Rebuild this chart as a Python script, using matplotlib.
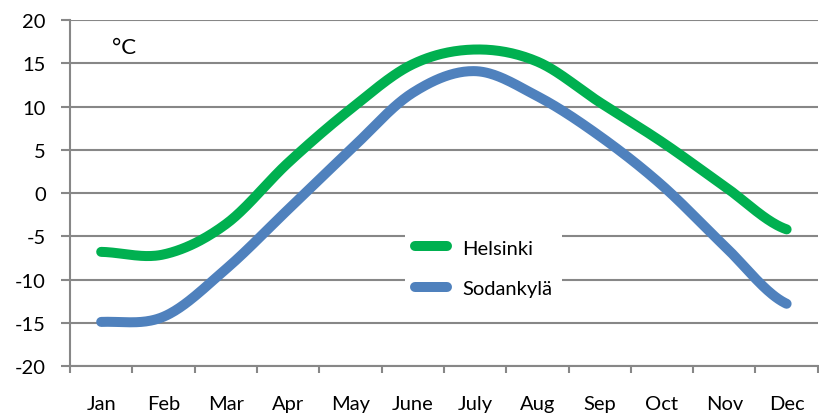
import numpy as np
import matplotlib.pyplot as plt

plt.rcParams['font.family'] = ['Lato', 'DejaVu Sans']
plt.rcParams['axes.unicode_minus'] = False

# Monthly mean temperatures (°C)
months = ['Jan', 'Feb', 'Mar', 'Apr', 'May', 'June', 'July', 'Aug', 'Sep', 'Oct', 'Nov', 'Dec']
helsinki = [-6.8, -7.1, -3.6, 3.5, 9.7, 14.9, 16.6, 15.2, 10.5, 5.9, 0.8, -4.2]
sodankyla = [-14.9, -14.3, -8.8, -1.9, 5.0, 11.6, 14.1, 11.2, 6.6, 0.9, -6.1, -12.8]


def smooth(vals, n=40):
    # Bezier curve through the points, the way a spreadsheet "smoothed line" does it
    p = np.asarray(vals, dtype=float)
    pad = np.concatenate([[p[0]], p, [p[-1]]])
    t = np.linspace(0, 1, n)
    xs, ys = [], []
    for i in range(len(p) - 1):
        p0, p1, p2, p3 = pad[i], pad[i + 1], pad[i + 2], pad[i + 3]
        c1 = p1 + (p2 - p0) / 6
        c2 = p2 - (p3 - p1) / 6
        y = (1 - t) ** 3 * p1 + 3 * (1 - t) ** 2 * t * c1 + 3 * (1 - t) * t ** 2 * c2 + t ** 3 * p2
        xs.append(i + t)
        ys.append(y)
    return np.concatenate(xs), np.concatenate(ys)


fig = plt.figure(figsize=(8.19, 4.14), dpi=100)
ax = fig.add_axes([0.0855, 0.1135, 0.913, 0.8355])

grid_col = '#878787'
x, y = smooth(helsinki)
ax.plot(x, y, color='#00B050', lw=7.2, solid_capstyle='round', label='Helsinki', zorder=3)
x, y = smooth(sodankyla)
ax.plot(x, y, color='#4F81BD', lw=7.2, solid_capstyle='round', label='Sodankylä', zorder=3)

ax.set_ylim(-20, 20)
ax.set_yticks(range(-20, 21, 5))
ax.set_xlim(-0.5, 11.5)
ax.set_xticks(np.arange(len(months)))
ax.set_xticklabels(months)
ax.set_xticks(np.arange(-0.5, 11.6, 1), minor=True)

ax.yaxis.grid(True, color=grid_col, lw=1.5)
ax.set_axisbelow(True)
for s in ['top', 'right']:
    ax.spines[s].set_visible(False)
for s in ['left', 'bottom']:
    ax.spines[s].set_color(grid_col)
    ax.spines[s].set_linewidth(1.5)

ax.tick_params(axis='y', length=6.5, width=1.5, color=grid_col, pad=11, labelsize=14.5)
ax.tick_params(axis='x', which='major', length=0, pad=21, labelsize=14.5)
ax.tick_params(axis='x', which='minor', length=5, width=1.5, color=grid_col)

ax.text(0.18, 16.9, '°C', fontsize=16, va='center', ha='left')

leg = ax.legend(loc='center', bbox_to_anchor=(0.553, 0.283), fontsize=14.5, frameon=True,
                handlelength=1.6, handletextpad=0.75, labelspacing=1.15, borderpad=0.5)
leg.get_frame().set_edgecolor('none')
leg.get_frame().set_facecolor('white')
leg.get_frame().set_alpha(1)

fig.savefig('out.png', dpi=100)
